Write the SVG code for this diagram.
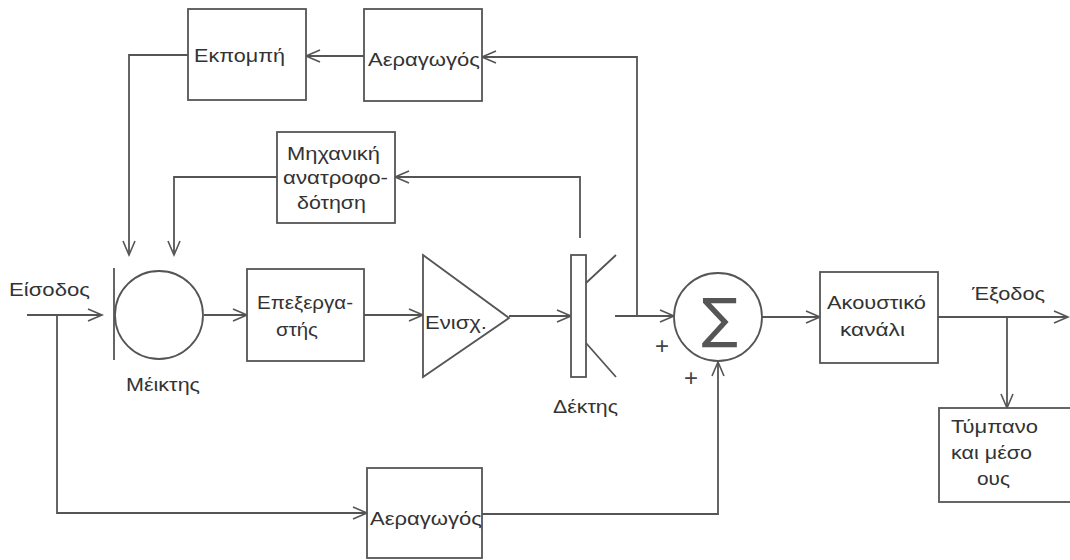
<svg xmlns="http://www.w3.org/2000/svg" width="1070" height="560" viewBox="0 0 1070 560">
<defs>
<marker id="ah" markerUnits="userSpaceOnUse" markerWidth="18" markerHeight="16" refX="15" refY="7" orient="auto">
<path d="M1,1 L15,7 L1,13" fill="none" stroke="#555" stroke-width="1.6"/>
</marker>
<style>
.b{fill:#fff;stroke:#555;stroke-width:1.8}
.c{fill:none;stroke:#555;stroke-width:1.8}
.t{font-family:"Liberation Sans",Arial,sans-serif;font-size:19px;fill:#333}
.m{text-anchor:middle}
.p{font-family:"Liberation Sans",Arial,sans-serif;font-size:24px;fill:#444;text-anchor:middle}
</style>
</defs>
<rect width="1070" height="560" fill="#fff"/>
<g id="connectors" class="c">
<path d="M27,315 H102" marker-end="url(#ah)"/>
<path d="M57,315 V513 H367" marker-end="url(#ah)"/>
<path d="M204,315 H247" marker-end="url(#ah)"/>
<path d="M364,315 H423" marker-end="url(#ah)"/>
<path d="M509,316 H571" marker-end="url(#ah)"/>
<path d="M615,316 H674" marker-end="url(#ah)"/>
<path d="M637,316 V57 H482" marker-end="url(#ah)"/>
<path d="M364,56 H306" marker-end="url(#ah)"/>
<path d="M188,55 H129 V255" marker-end="url(#ah)"/>
<path d="M580,238 V177 H395" marker-end="url(#ah)"/>
<path d="M277,177 H174 V255" marker-end="url(#ah)"/>
<path d="M482,514 H718 V362" marker-end="url(#ah)"/>
<path d="M762,317 H820" marker-end="url(#ah)"/>
<path d="M938,317 H1068" marker-end="url(#ah)"/>
<path d="M1007,317 V408" marker-end="url(#ah)"/>
</g>
<g id="ektompi"><rect class="b" x="188" y="9" width="118" height="91"/><text class="t" x="194" y="62" textLength="91" lengthAdjust="spacingAndGlyphs">Εκπομπή</text></g>
<g id="aeragogos-top"><rect class="b" x="364" y="9" width="118" height="92"/><text class="t" x="368" y="66" textLength="112" lengthAdjust="spacingAndGlyphs">Αεραγωγός</text></g>
<g id="mixaniki"><rect class="b" x="277" y="132" width="118" height="91"/>
<text class="t" x="287" y="160" textLength="93" lengthAdjust="spacingAndGlyphs">Μηχανική</text><text class="t" x="283" y="184" textLength="105" lengthAdjust="spacingAndGlyphs">ανατροφο-</text><text class="t" x="297" y="209" textLength="69" lengthAdjust="spacingAndGlyphs">δότηση</text></g>
<g id="eisodos"><text class="t" x="9" y="296" textLength="81" lengthAdjust="spacingAndGlyphs">Είσοδος</text></g>
<g id="mikths"><line class="c" x1="114" y1="268" x2="114" y2="360"/><circle class="b" cx="159" cy="315" r="44"/><text class="t" x="126" y="391" textLength="74" lengthAdjust="spacingAndGlyphs">Μέικτης</text></g>
<g id="epeksergastis"><rect class="b" x="247" y="269" width="117" height="92"/><text class="t" x="257" y="309" textLength="96" lengthAdjust="spacingAndGlyphs">Επεξεργα-</text><text class="t" x="276" y="336" textLength="42" lengthAdjust="spacingAndGlyphs">στής</text></g>
<g id="enisx"><path class="b" d="M423,255 L509,318 L423,377 Z"/><text class="t" x="425" y="329" textLength="62" lengthAdjust="spacingAndGlyphs">Ενισχ.</text></g>
<g id="dektis"><rect class="b" x="571" y="255" width="15" height="122"/><path class="c" d="M586,283 L616,255 M586,343 L616,377"/><text class="t" x="553" y="413" textLength="65" lengthAdjust="spacingAndGlyphs">Δέκτης</text></g>
<g id="sum"><circle class="b" cx="718" cy="317" r="44"/><text x="720" y="337" text-anchor="middle" style="font-family:'DejaVu Sans',sans-serif;font-size:54px;fill:#555">∑</text>
<text class="p" x="662" y="354">+</text><text class="p" x="691" y="386">+</text></g>
<g id="akoustiko"><rect class="b" x="820" y="272" width="118" height="91"/><text class="t" x="827" y="309" textLength="99" lengthAdjust="spacingAndGlyphs">Ακουστικό</text><text class="t" x="840" y="336" textLength="65" lengthAdjust="spacingAndGlyphs">κανάλι</text></g>
<g id="eksodos"><text class="t" x="972" y="300" textLength="73" lengthAdjust="spacingAndGlyphs">Έξοδος</text></g>
<g id="tympano"><rect class="b" x="939" y="408" width="140" height="94"/><text class="t" x="951" y="433" textLength="87" lengthAdjust="spacingAndGlyphs">Τύμπανο</text><text class="t" x="951" y="459" textLength="81" lengthAdjust="spacingAndGlyphs">και μέσο</text><text class="t" x="977" y="485" textLength="33" lengthAdjust="spacingAndGlyphs">ους</text></g>
<g id="aeragogos-bottom"><rect class="b" x="367" y="468" width="115" height="90"/><text class="t" x="370" y="525" textLength="112" lengthAdjust="spacingAndGlyphs">Αεραγωγός</text></g>
</svg>
